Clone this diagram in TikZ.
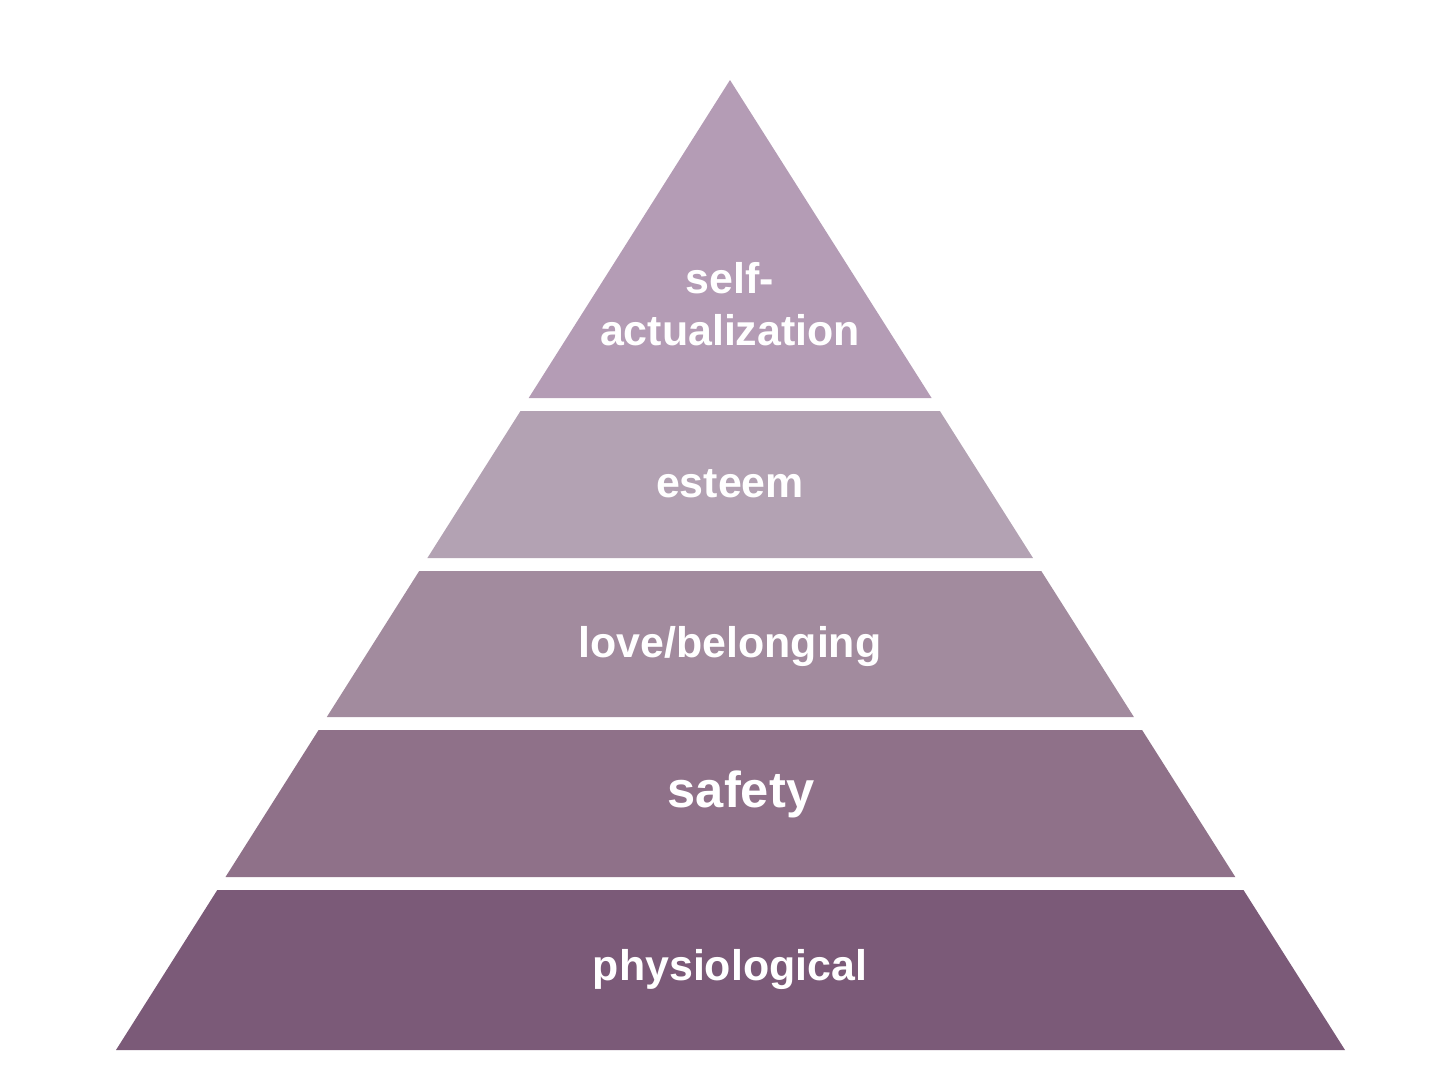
\documentclass[tikz,border=0pt]{standalone}
\usepackage{fontspec}
\setmainfont{Liberation Sans}
\usepackage{tikz}

\definecolor{selfcol}{HTML}{B49CB5}
\definecolor{esteemcol}{HTML}{B3A2B3}
\definecolor{lovecol}{HTML}{A28B9E}
\definecolor{safetycol}{HTML}{8F7189}
\definecolor{physiocol}{HTML}{7B5A78}

\begin{document}
\begin{tikzpicture}[x=0.01cm, y=-0.01cm,
	needtext/.style={text=white, inner sep=0pt, anchor=base, align=center, font=\bfseries\fontsize{12.2}{14.7}\selectfont}]
	\useasboundingbox (0,0) rectangle (1456,1078);
	
	% 顶层 self-actualization
	\fill[selfcol] (730,80) -- (931.6,398) -- (528.7,398) -- cycle;
	
	% esteem
	\fill[esteemcol] (520.5,411) -- (939.9,411) -- (1033,558) -- (427.4,558) -- cycle;
	
	% love/belonging
	\fill[lovecol] (419.2,571) -- (1041.3,571) -- (1133.9,717) -- (326.8,717) -- cycle;
	
	% safety
	\fill[safetycol] (318.6,730) -- (1142.1,730) -- (1235.3,877) -- (225.5,877) -- cycle;
	
	% 底层 physiological
	\fill[physiocol] (217.3,890) -- (1243.5,890) -- (1345,1050) -- (116,1050) -- cycle;
	
	% 文字
	\node[needtext] (selfact) at (730,345) {self-\\actualization};
	\node[needtext] (esteem) at (730,497) {esteem};
	\node[needtext] (love) at (730,657) {love/belonging};
	\node[needtext, font=\bfseries\fontsize{14.4}{16}\selectfont] (safety) at (741,807) {safety};
	\node[needtext] (physio) at (730,980) {physiological};
\end{tikzpicture}
\end{document}
